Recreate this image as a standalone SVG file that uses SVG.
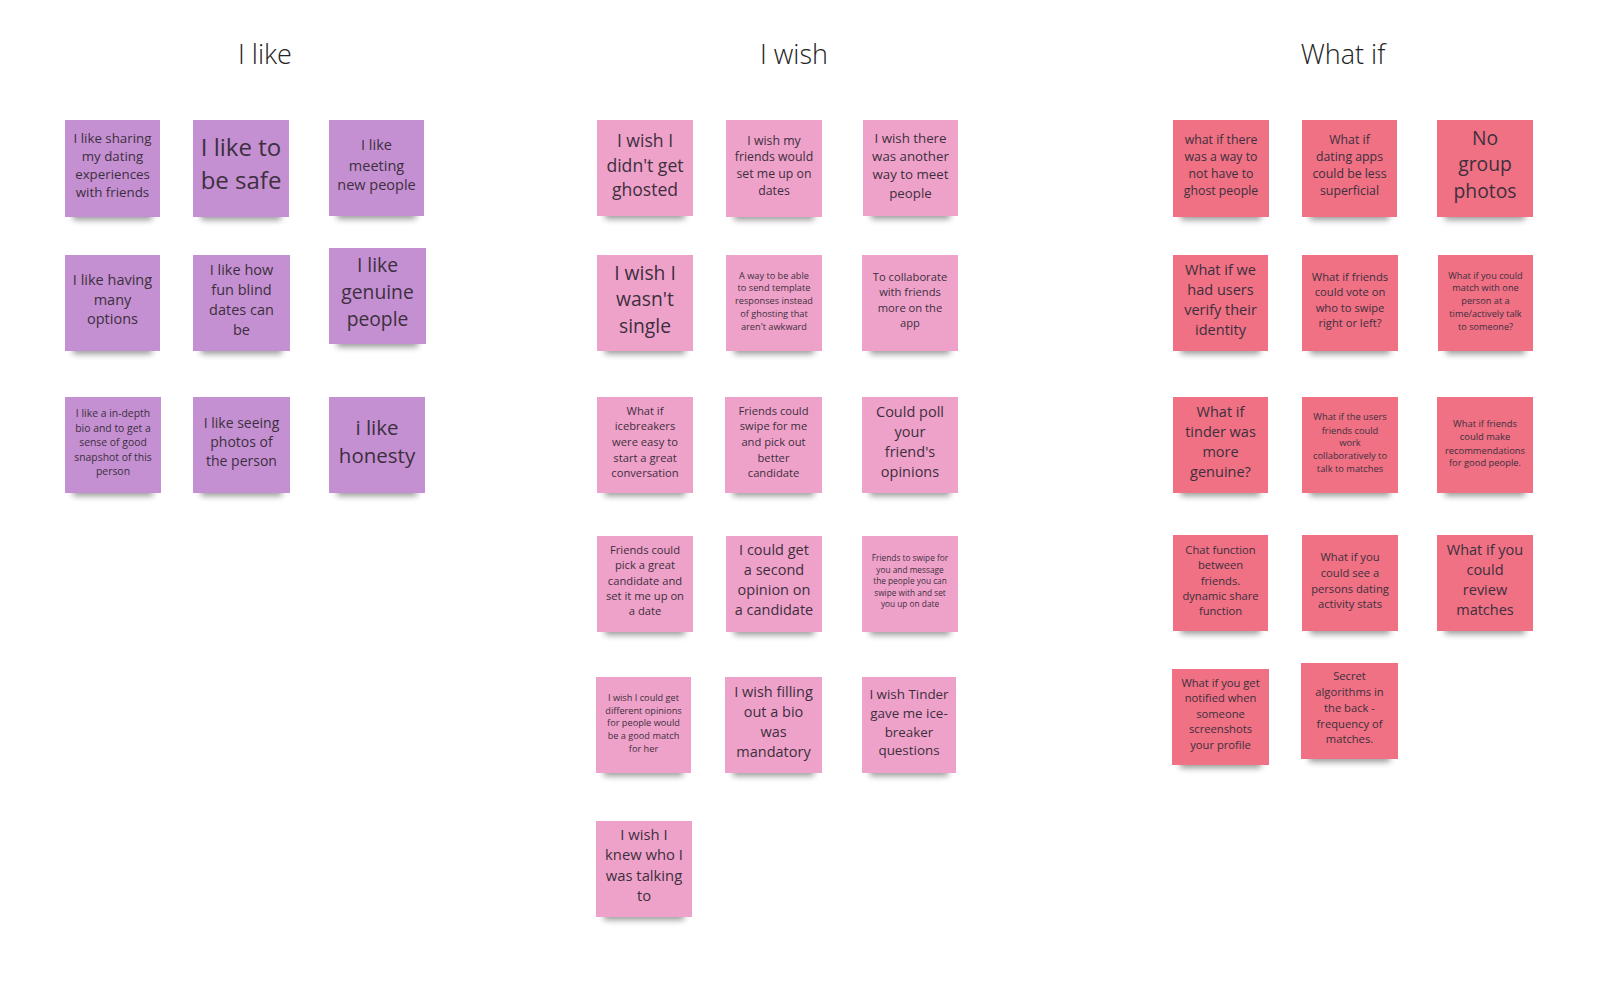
<svg xmlns="http://www.w3.org/2000/svg" width="1600" height="991" viewBox="0 0 1600 991">
<defs>
<filter id="blur" x="-20%" y="-100%" width="140%" height="300%"><feGaussianBlur stdDeviation="3"/></filter>
<style>
.title{font-family:"Open Sans","Liberation Sans",sans-serif;font-size:27px;font-weight:300;fill:#222;text-anchor:middle}
.t{font-family:"Open Sans","Liberation Sans",sans-serif;fill:#3d2f3e;text-anchor:middle}
.p{fill:#C490D2}
.k{fill:#EFA2C9}
.r{fill:#EF7183}
.sh{fill:#000;opacity:.4;filter:url(#blur)}
</style>
</defs>
<rect width="1600" height="991" fill="#fff"/>
<g id="titles">
<text class="title" x="265" y="64">I like</text>
<text class="title" x="794" y="64">I wish</text>
<text class="title" x="1343" y="64">What if</text>
</g>
<g id="connectors"></g>

<!-- I like -->
<g id="like1"><rect class="sh" x="73" y="206" width="79" height="14"/><rect class="p" x="65" y="120" width="95" height="97"/>
<text class="t" font-size="13.3"><tspan x="112.5" y="143">I like sharing</tspan><tspan x="112.5" y="161">my dating</tspan><tspan x="112.5" y="179">experiences</tspan><tspan x="112.5" y="197">with friends</tspan></text></g>
<g id="like2"><rect class="sh" x="201" y="206" width="80" height="14"/><rect class="p" x="193" y="120" width="96" height="97"/>
<text class="t" font-size="24"><tspan x="241" y="156">I like to</tspan><tspan x="241" y="189">be safe</tspan></text></g>
<g id="like3"><rect class="sh" x="337" y="205" width="79" height="14"/><rect class="p" x="329" y="120" width="95" height="96"/>
<text class="t" font-size="14.5"><tspan x="376.5" y="150">I like</tspan><tspan x="376.5" y="171">meeting</tspan><tspan x="376.5" y="190">new people</tspan></text></g>
<g id="like4"><rect class="sh" x="73" y="340" width="79" height="14"/><rect class="p" x="65" y="255" width="95" height="96"/>
<text class="t" font-size="14.5"><tspan x="112.5" y="285">I like having</tspan><tspan x="112.5" y="305">many</tspan><tspan x="112.5" y="324">options</tspan></text></g>
<g id="like5"><rect class="sh" x="201" y="340" width="81" height="14"/><rect class="p" x="193" y="255" width="97" height="96"/>
<text class="t" font-size="14.5"><tspan x="241.5" y="275">I like how</tspan><tspan x="241.5" y="295">fun blind</tspan><tspan x="241.5" y="315">dates can</tspan><tspan x="241.5" y="335">be</tspan></text></g>
<g id="like6"><rect class="sh" x="337" y="333" width="81" height="14"/><rect class="p" x="329" y="248" width="97" height="96"/>
<text class="t" font-size="19.3"><tspan x="377.5" y="272">I like</tspan><tspan x="377.5" y="299">genuine</tspan><tspan x="377.5" y="325.5">people</tspan></text></g>
<g id="like7"><rect class="sh" x="73" y="482" width="80" height="14"/><rect class="p" x="65" y="397" width="96" height="96"/>
<text class="t" font-size="10.4"><tspan x="113" y="417">I like a in-depth</tspan><tspan x="113" y="432">bio and to get a</tspan><tspan x="113" y="446">sense of good</tspan><tspan x="113" y="461">snapshot of this</tspan><tspan x="113" y="475">person</tspan></text></g>
<g id="like8"><rect class="sh" x="201" y="482" width="81" height="14"/><rect class="p" x="193" y="397" width="97" height="96"/>
<text class="t" font-size="14"><tspan x="241.5" y="428">I like seeing</tspan><tspan x="241.5" y="447">photos of</tspan><tspan x="241.5" y="466">the person</tspan></text></g>
<g id="like9"><rect class="sh" x="337" y="482" width="80" height="14"/><rect class="p" x="329" y="397" width="96" height="96"/>
<text class="t" font-size="20.5"><tspan x="377" y="435">i like</tspan><tspan x="377" y="463">honesty</tspan></text></g>

<!-- I wish -->
<g id="wish1"><rect class="sh" x="605" y="205" width="80" height="14"/><rect class="k" x="597" y="120" width="96" height="96"/>
<text class="t" font-size="17.6"><tspan x="645" y="147">I wish I</tspan><tspan x="645" y="172">didn't get</tspan><tspan x="645" y="196">ghosted</tspan></text></g>
<g id="wish2"><rect class="sh" x="734" y="206" width="80" height="14"/><rect class="k" x="726" y="120" width="96" height="97"/>
<text class="t" font-size="12.3"><tspan x="774" y="145">I wish my</tspan><tspan x="774" y="161">friends would</tspan><tspan x="774" y="178">set me up on</tspan><tspan x="774" y="195">dates</tspan></text></g>
<g id="wish3"><rect class="sh" x="871" y="205" width="79" height="14"/><rect class="k" x="863" y="120" width="95" height="96"/>
<text class="t" font-size="13.3"><tspan x="910.5" y="143">I wish there</tspan><tspan x="910.5" y="161">was another</tspan><tspan x="910.5" y="179">way to meet</tspan><tspan x="910.5" y="198">people</tspan></text></g>
<g id="wish4"><rect class="sh" x="605" y="340" width="80" height="14"/><rect class="k" x="597" y="255" width="96" height="96"/>
<text class="t" font-size="19.3"><tspan x="645" y="280">I wish I</tspan><tspan x="645" y="306">wasn't</tspan><tspan x="645" y="333">single</tspan></text></g>
<g id="wish5"><rect class="sh" x="734" y="340" width="80" height="14"/><rect class="k" x="726" y="255" width="96" height="96"/>
<text class="t" font-size="9.2"><tspan x="774" y="279">A way to be able</tspan><tspan x="774" y="291">to send template</tspan><tspan x="774" y="304">responses instead</tspan><tspan x="774" y="317">of ghosting that</tspan><tspan x="774" y="330">aren't awkward</tspan></text></g>
<g id="wish6"><rect class="sh" x="870" y="340" width="80" height="14"/><rect class="k" x="862" y="255" width="96" height="96"/>
<text class="t" font-size="11.2"><tspan x="910" y="281">To collaborate</tspan><tspan x="910" y="296">with friends</tspan><tspan x="910" y="312">more on the</tspan><tspan x="910" y="327">app</tspan></text></g>
<g id="wish7"><rect class="sh" x="605" y="482" width="80" height="14"/><rect class="k" x="597" y="397" width="96" height="96"/>
<text class="t" font-size="11.2"><tspan x="645" y="415">What if</tspan><tspan x="645" y="430">icebreakers</tspan><tspan x="645" y="446">were easy to</tspan><tspan x="645" y="462">start a great</tspan><tspan x="645" y="477">conversation</tspan></text></g>
<g id="wish8"><rect class="sh" x="733" y="482" width="81" height="14"/><rect class="k" x="725" y="397" width="97" height="96"/>
<text class="t" font-size="11.2"><tspan x="773.5" y="415">Friends could</tspan><tspan x="773.5" y="430">swipe for me</tspan><tspan x="773.5" y="446">and pick out</tspan><tspan x="773.5" y="462">better</tspan><tspan x="773.5" y="477">candidate</tspan></text></g>
<g id="wish9"><rect class="sh" x="870" y="482" width="80" height="14"/><rect class="k" x="862" y="397" width="96" height="96"/>
<text class="t" font-size="14.5"><tspan x="910" y="417">Could poll</tspan><tspan x="910" y="437">your</tspan><tspan x="910" y="457">friend's</tspan><tspan x="910" y="477">opinions</tspan></text></g>
<g id="wish10"><rect class="sh" x="605" y="621" width="80" height="14"/><rect class="k" x="597" y="536" width="96" height="96"/>
<text class="t" font-size="11.2"><tspan x="645" y="554">Friends could</tspan><tspan x="645" y="569">pick a great</tspan><tspan x="645" y="585">candidate and</tspan><tspan x="645" y="600">set it me up on</tspan><tspan x="645" y="615">a date</tspan></text></g>
<g id="wish11"><rect class="sh" x="734" y="621" width="80" height="14"/><rect class="k" x="726" y="536" width="96" height="96"/>
<text class="t" font-size="14.5"><tspan x="774" y="555">I could get</tspan><tspan x="774" y="575">a second</tspan><tspan x="774" y="595">opinion on</tspan><tspan x="774" y="615">a candidate</tspan></text></g>
<g id="wish12"><rect class="sh" x="870" y="621" width="80" height="14"/><rect class="k" x="862" y="536" width="96" height="96"/>
<text class="t" font-size="8.3"><tspan x="910" y="561">Friends to swipe for</tspan><tspan x="910" y="573">you and message</tspan><tspan x="910" y="584">the people you can</tspan><tspan x="910" y="596">swipe with and set</tspan><tspan x="910" y="607">you up on date</tspan></text></g>
<g id="wish13"><rect class="sh" x="604" y="762" width="79" height="14"/><rect class="k" x="596" y="677" width="95" height="96"/>
<text class="t" font-size="9.2"><tspan x="643.5" y="701">I wish I could get</tspan><tspan x="643.5" y="714">different opinions</tspan><tspan x="643.5" y="726">for people would</tspan><tspan x="643.5" y="739">be a good match</tspan><tspan x="643.5" y="752">for her</tspan></text></g>
<g id="wish14"><rect class="sh" x="733" y="762" width="81" height="14"/><rect class="k" x="725" y="677" width="97" height="96"/>
<text class="t" font-size="14.5"><tspan x="773.5" y="697">I wish filling</tspan><tspan x="773.5" y="717">out a bio</tspan><tspan x="773.5" y="737">was</tspan><tspan x="773.5" y="757">mandatory</tspan></text></g>
<g id="wish15"><rect class="sh" x="870" y="762" width="78" height="14"/><rect class="k" x="862" y="677" width="94" height="96"/>
<text class="t" font-size="13.4"><tspan x="909" y="699">I wish Tinder</tspan><tspan x="909" y="718">gave me ice-</tspan><tspan x="909" y="737">breaker</tspan><tspan x="909" y="755">questions</tspan></text></g>
<g id="wish16"><rect class="sh" x="604" y="906" width="80" height="14"/><rect class="k" x="596" y="821" width="96" height="96"/>
<text class="t" font-size="14.8"><tspan x="644" y="840">I wish I</tspan><tspan x="644" y="860">knew who I</tspan><tspan x="644" y="881">was talking</tspan><tspan x="644" y="901">to</tspan></text></g>

<!-- What if -->
<g id="whatif1"><rect class="sh" x="1181" y="206" width="80" height="14"/><rect class="r" x="1173" y="120" width="96" height="97"/>
<text class="t" font-size="12.3"><tspan x="1221" y="144">what if there</tspan><tspan x="1221" y="161">was a way to</tspan><tspan x="1221" y="178">not have to</tspan><tspan x="1221" y="195">ghost people</tspan></text></g>
<g id="whatif2"><rect class="sh" x="1310" y="206" width="79" height="14"/><rect class="r" x="1302" y="120" width="95" height="97"/>
<text class="t" font-size="12.3"><tspan x="1349.5" y="144">What if</tspan><tspan x="1349.5" y="161">dating apps</tspan><tspan x="1349.5" y="178">could be less</tspan><tspan x="1349.5" y="195">superficial</tspan></text></g>
<g id="whatif3"><rect class="sh" x="1445" y="206" width="80" height="14"/><rect class="r" x="1437" y="120" width="96" height="97"/>
<text class="t" font-size="19.3"><tspan x="1485" y="145">No</tspan><tspan x="1485" y="171">group</tspan><tspan x="1485" y="198">photos</tspan></text></g>
<g id="whatif4"><rect class="sh" x="1181" y="340" width="79" height="14"/><rect class="r" x="1173" y="255" width="95" height="96"/>
<text class="t" font-size="14.5"><tspan x="1220.5" y="275">What if we</tspan><tspan x="1220.5" y="295">had users</tspan><tspan x="1220.5" y="315">verify their</tspan><tspan x="1220.5" y="335">identity</tspan></text></g>
<g id="whatif5"><rect class="sh" x="1310" y="340" width="80" height="14"/><rect class="r" x="1302" y="255" width="96" height="96"/>
<text class="t" font-size="11.2"><tspan x="1350" y="281">What if friends</tspan><tspan x="1350" y="296">could vote on</tspan><tspan x="1350" y="312">who to swipe</tspan><tspan x="1350" y="327">right or left?</tspan></text></g>
<g id="whatif6"><rect class="sh" x="1446" y="340" width="79" height="14"/><rect class="r" x="1438" y="255" width="95" height="96"/>
<text class="t" font-size="9.2"><tspan x="1485.5" y="279">What if you could</tspan><tspan x="1485.5" y="291">match with one</tspan><tspan x="1485.5" y="304">person at a</tspan><tspan x="1485.5" y="317">time/actively talk</tspan><tspan x="1485.5" y="330">to someone?</tspan></text></g>
<g id="whatif7"><rect class="sh" x="1181" y="482" width="79" height="14"/><rect class="r" x="1173" y="397" width="95" height="96"/>
<text class="t" font-size="14.5"><tspan x="1220.5" y="417">What if</tspan><tspan x="1220.5" y="437">tinder was</tspan><tspan x="1220.5" y="457">more</tspan><tspan x="1220.5" y="477">genuine?</tspan></text></g>
<g id="whatif8"><rect class="sh" x="1310" y="482" width="80" height="14"/><rect class="r" x="1302" y="397" width="96" height="96"/>
<text class="t" font-size="9.3"><tspan x="1350" y="420">What if the users</tspan><tspan x="1350" y="434">friends could</tspan><tspan x="1350" y="446">work</tspan><tspan x="1350" y="459">collaboratively to</tspan><tspan x="1350" y="472">talk to matches</tspan></text></g>
<g id="whatif9"><rect class="sh" x="1445" y="482" width="80" height="14"/><rect class="r" x="1437" y="397" width="96" height="96"/>
<text class="t" font-size="9.4"><tspan x="1485" y="427">What if friends</tspan><tspan x="1485" y="440">could make</tspan><tspan x="1485" y="454">recommendations</tspan><tspan x="1485" y="466">for good people.</tspan></text></g>
<g id="whatif10"><rect class="sh" x="1181" y="620" width="79" height="14"/><rect class="r" x="1173" y="535" width="95" height="96"/>
<text class="t" font-size="11.2"><tspan x="1220.5" y="554">Chat function</tspan><tspan x="1220.5" y="569">between</tspan><tspan x="1220.5" y="585">friends.</tspan><tspan x="1220.5" y="600">dynamic share</tspan><tspan x="1220.5" y="615">function</tspan></text></g>
<g id="whatif11"><rect class="sh" x="1310" y="620" width="80" height="14"/><rect class="r" x="1302" y="535" width="96" height="96"/>
<text class="t" font-size="11.2"><tspan x="1350" y="561">What if you</tspan><tspan x="1350" y="577">could see a</tspan><tspan x="1350" y="593">persons dating</tspan><tspan x="1350" y="608">activity stats</tspan></text></g>
<g id="whatif12"><rect class="sh" x="1445" y="620" width="80" height="14"/><rect class="r" x="1437" y="535" width="96" height="96"/>
<text class="t" font-size="14.5"><tspan x="1485" y="555">What if you</tspan><tspan x="1485" y="575">could</tspan><tspan x="1485" y="595">review</tspan><tspan x="1485" y="615">matches</tspan></text></g>
<g id="whatif13"><rect class="sh" x="1180" y="754" width="81" height="14"/><rect class="r" x="1172" y="669" width="97" height="96"/>
<text class="t" font-size="11.2"><tspan x="1220.5" y="687">What if you get</tspan><tspan x="1220.5" y="702">notified when</tspan><tspan x="1220.5" y="718">someone</tspan><tspan x="1220.5" y="733">screenshots</tspan><tspan x="1220.5" y="749">your profile</tspan></text></g>
<g id="whatif14"><rect class="sh" x="1309" y="748" width="81" height="14"/><rect class="r" x="1301" y="663" width="97" height="96"/>
<text class="t" font-size="11.2"><tspan x="1349.5" y="680">Secret</tspan><tspan x="1349.5" y="696">algorithms in</tspan><tspan x="1349.5" y="712">the back -</tspan><tspan x="1349.5" y="728">frequency of</tspan><tspan x="1349.5" y="743">matches.</tspan></text></g>
</svg>
